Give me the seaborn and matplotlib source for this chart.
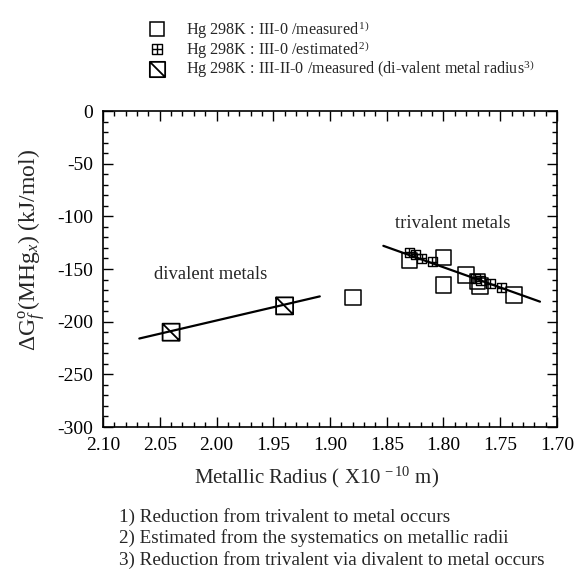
import numpy as np
import matplotlib
matplotlib.use("Agg")
import matplotlib.pyplot as plt
from matplotlib.path import Path
from matplotlib.lines import Line2D
from matplotlib.ticker import MultipleLocator, FormatStrFormatter
import seaborn as sns

# ---------------- data ----------------
measured_r = [1.880, 1.830, 1.800, 1.800, 1.780, 1.770, 1.768, 1.738]
measured_g = [-177, -142, -139, -165, -156, -162, -166, -175]

estimated_r = [1.830, 1.825, 1.819, 1.810, 1.772, 1.767, 1.759, 1.749]
estimated_g = [-134, -136, -140, -143, -159, -161, -164, -168]

divalent_r = [2.040, 1.940]
divalent_g = [-210, -185]

div_line_r = [2.068, 1.909]
div_line_g = [-216, -176]
tri_line_r = [1.853, 1.715]
tri_line_g = [-128, -181]

legend_labels = [
    r"Hg 298K : III-0 /measured$^{\,1)}$",
    r"Hg 298K : III-0 /estimated$^{\,2)}$",
    r"Hg 298K : III-II-0 /measured (di-valent metal radius$^{3)}$",
]
footnotes = [
    "1) Reduction from trivalent to metal occurs",
    "2) Estimated from the systematics on metallic radii",
    "3) Reduction from trivalent via divalent to metal occurs",
]

# ---------------- style ----------------
sns.set_style("ticks")
plt.rcParams["font.family"] = ["Liberation Serif", "DejaVu Serif"]
plt.rcParams["mathtext.fontset"] = "custom"
plt.rcParams["mathtext.rm"] = "Liberation Serif"
plt.rcParams["mathtext.it"] = "Liberation Serif:italic"
plt.rcParams["mathtext.bf"] = "Liberation Serif:bold"
plt.rcParams["axes.unicode_minus"] = False

# custom markers
sq_plus = Path(
    [(-1, -1), (1, -1), (1, 1), (-1, 1), (-1, -1),
     (-1, 0), (1, 0), (0, -1), (0, 1)],
    [Path.MOVETO, Path.LINETO, Path.LINETO, Path.LINETO, Path.CLOSEPOLY,
     Path.MOVETO, Path.LINETO, Path.MOVETO, Path.LINETO])
sq_diag = Path(
    [(-1, -1), (1, -1), (1, 1), (-1, 1), (-1, -1),
     (-1, 1), (1, -1)],
    [Path.MOVETO, Path.LINETO, Path.LINETO, Path.LINETO, Path.CLOSEPOLY,
     Path.MOVETO, Path.LINETO])

W, H = 574, 570
fig = plt.figure(figsize=(W / 100, H / 100), dpi=100)
L, R, T, B = 103, 557, 111, 427
ax = fig.add_axes([L / W, 1 - B / H, (R - L) / W, (B - T) / H])

# lines
sns.lineplot(x=div_line_r, y=div_line_g, ax=ax, color="black", lw=1.6, sort=False)
sns.lineplot(x=tri_line_r, y=tri_line_g, ax=ax, color="black", lw=1.6, sort=False)

# points
sns.scatterplot(x=measured_r, y=measured_g, ax=ax, marker="s", s=128,
                facecolors="none", edgecolor="black", linewidth=1.1, zorder=3)
sns.scatterplot(x=estimated_r, y=estimated_g, ax=ax, marker=sq_plus, s=42,
                facecolors="none", edgecolor="black", linewidth=1.0, zorder=4)
sns.scatterplot(x=divalent_r, y=divalent_g, ax=ax, marker=sq_diag, s=150,
                facecolors="none", edgecolor="black", linewidth=1.3, zorder=3)

ax.set_xlim(2.10, 1.70)
ax.set_ylim(-300, 0)
ax.xaxis.set_major_locator(MultipleLocator(0.05))
ax.xaxis.set_minor_locator(MultipleLocator(0.01))
ax.xaxis.set_major_formatter(FormatStrFormatter("%.2f"))
ax.yaxis.set_major_locator(MultipleLocator(50))
ax.yaxis.set_minor_locator(MultipleLocator(10))
ax.tick_params(which="both", direction="in", top=True, right=True,
               color="black", width=1.0)
ax.tick_params(which="major", length=7, labelsize=14, pad=7, labelcolor="black")
ax.tick_params(which="minor", length=3.5)
for sp in ax.spines.values():
    sp.set_linewidth(1.2)
    sp.set_color("black")

ax.set_xlabel(r"Metallic Radius ( X10$^{\,-10}$ m)", fontsize=15)
ax.xaxis.set_label_coords((317 - L) / (R - L), -0.118)
ax.xaxis.label.set_va("top")
ax.set_ylabel(r"$\Delta$G$^{\rm o}_{f}$(MHg$_{x}$) (kJ/mol)", fontsize=17)
ax.yaxis.set_label_coords((47 - L) / (R - L), (B - 250) / (B - T))

ax.text(1.843, -107, "trivalent metals", fontsize=13.4, va="center", ha="left")
ax.text(2.055, -155, "divalent metals", fontsize=13.4, va="center", ha="left")

handles = [
    Line2D([], [], ls="none", marker="s", markersize=10.5, mfc="none", mec="black", mew=1.1),
    Line2D([], [], ls="none", marker=sq_plus, markersize=6.5, mfc="none", mec="black", mew=1.0),
    Line2D([], [], ls="none", marker=sq_diag, markersize=11, mfc="none", mec="black", mew=1.3),
]
fig.legend(handles, legend_labels, loc="upper left",
           bbox_to_anchor=(149 / W, 1 - 19 / H), frameon=False,
           fontsize=11.6, handlelength=0.95, handletextpad=1.35,
           borderpad=0, borderaxespad=0, labelspacing=-0.15)

for i, t in enumerate(footnotes):
    fig.text(119 / W, 1 - (517 + 21.5 * i) / H, t, fontsize=13.8, va="center", ha="left")

fig.savefig("out.png", dpi=100, facecolor="white")
